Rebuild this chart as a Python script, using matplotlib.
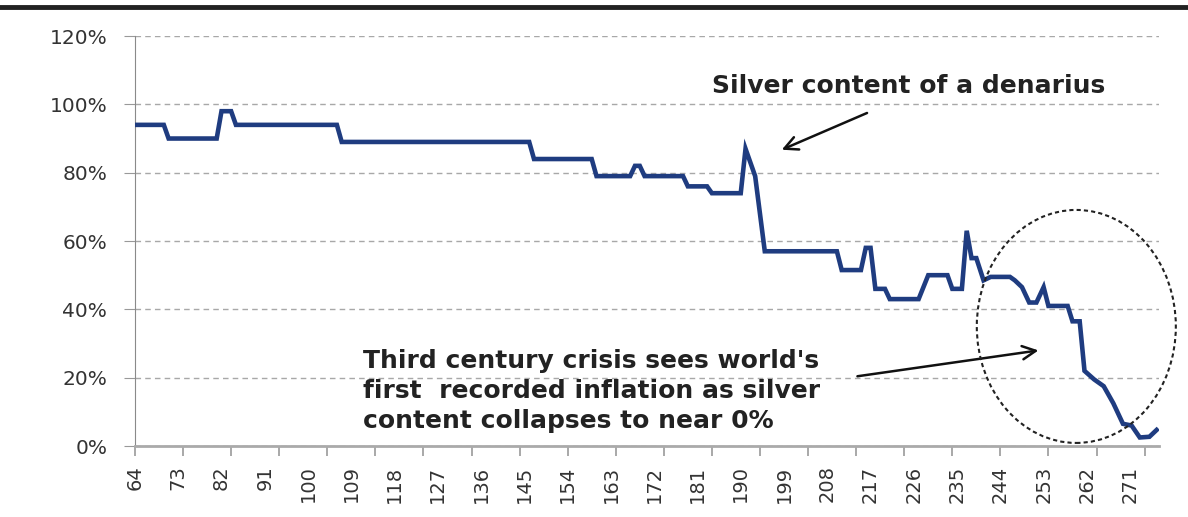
import matplotlib.pyplot as plt
from matplotlib.patches import Ellipse
from matplotlib.lines import Line2D

# silver content of the denarius (year, percent)
years = [64, 70, 71, 81, 82, 84, 85, 106, 107, 146,
         147, 159, 160, 167, 168, 169, 170, 178, 179, 183,
         184, 190, 191, 193, 195, 210, 211, 215, 216, 217,
         218, 220, 221, 227, 229, 233, 234, 236, 237, 238,
         239, 240.5, 242, 246, 247, 248.5, 250, 251.5, 253, 254,
         258, 259, 260.5, 261.5, 263.5, 265.5, 267.5, 269.5, 271.3, 273,
         275, 276.5]
silver = [94, 94, 90, 90, 98, 98, 94, 94, 89, 89,
          84, 84, 79, 79, 82, 82, 79, 79, 76, 76,
          74, 74, 87, 79, 57, 57, 51.5, 51.5, 58, 58,
          46, 46, 43, 43, 50, 50, 46, 46, 63, 55,
          55, 48.5, 49.5, 49.5, 48.5, 46.5, 42, 42, 46.5, 41,
          41, 36.5, 36.5, 22, 19.5, 17.5, 12.5, 6.5, 6, 2.5,
          2.7, 4.7]

label_years = list(range(64, 272, 9))
tick_years = list(range(64, 277, 10))
y_ticks = [0, 20, 40, 60, 80, 100, 120]

title_note = "Silver content of a denarius"
crisis_note = "Third century crisis sees world's\nfirst  recorded inflation as silver\ncontent collapses to near 0%"


def draw_chart():
    fig = plt.figure(figsize=(11.88, 5.17), dpi=100)
    ax = fig.add_axes([0.1136, 0.1373, 0.862, 0.793])

    ax.plot(years, silver, color='#1f3c80', lw=3.3, solid_joinstyle='miter', zorder=3)

    ax.set_xlim(64, 277)
    ax.set_ylim(0, 120)

    ax.set_yticks(y_ticks)
    ax.set_yticklabels([f"{v}%" for v in y_ticks], fontsize=14.5, color='#333333')
    ax.yaxis.grid(True, color='#a8a8a8', linestyle=(0, (4, 3)), lw=1)
    ax.set_axisbelow(True)

    # labels every 9 years, small tick marks every 10
    ax.xaxis.remove_overlapping_locs = False
    ax.set_xticks(label_years)
    ax.set_xticklabels([str(y) for y in label_years], rotation=90,
                       fontsize=14, color='#333333')
    ax.set_xticks(tick_years, minor=True)
    ax.tick_params(axis='x', which='major', length=0, pad=14)
    ax.tick_params(axis='x', which='minor', length=7, color='#999999', width=1.2)
    ax.tick_params(axis='y', length=8, color='#999999', pad=12)

    for s in ['top', 'right']:
        ax.spines[s].set_visible(False)
    ax.spines['left'].set_color('#8a8a8a')
    ax.spines['bottom'].set_color('#aaaaaa')
    ax.spines['bottom'].set_linewidth(2)

    # annotations
    ax.text(184, 105.5, title_note, fontsize=18, fontweight='bold', color='#222222',
            va='center', ha='left')
    ax.annotate('', xy=(198, 86.4), xytext=(216.8, 97.8),
                arrowprops=dict(arrowstyle='->', color='#111111', lw=1.8,
                                mutation_scale=24))

    ax.text(111.5, 16.1, crisis_note, fontsize=18, fontweight='bold', color='#222222',
            va='center', ha='left', linespacing=1.3)
    ax.annotate('', xy=(252.5, 28.1), xytext=(213.7, 20.3),
                arrowprops=dict(arrowstyle='->', color='#111111', lw=1.8,
                                mutation_scale=24))

    ell = Ellipse((259.8, 35), 41.4, 68.2, fill=False, edgecolor='#222222',
                  linestyle=(0, (2, 1.5)), lw=1.5, clip_on=False, zorder=4)
    ax.add_patch(ell)

    # dark rule across the top of the page
    fig.add_artist(Line2D([0, 1], [0.986, 0.986], color='#222222', lw=3.5,
                          transform=fig.transFigure))

    fig.savefig('out.png', dpi=100)


if __name__ == "__main__":
    draw_chart()
